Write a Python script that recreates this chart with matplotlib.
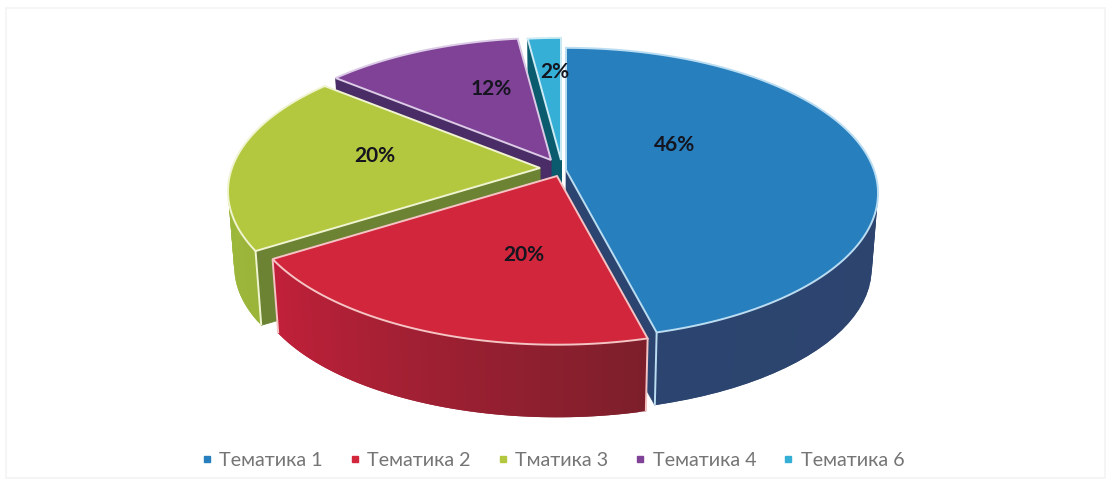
import numpy as np
import matplotlib
matplotlib.use("Agg")
import matplotlib.pyplot as plt
from matplotlib.patches import Polygon, Rectangle
from matplotlib.lines import Line2D
from matplotlib.colors import to_rgb, to_hex

# --- data ---
labels = ["Тематика 1", "Тематика 2", "Тматика 3", "Тематика 4", "Тематика 6"]
values = [46, 20, 20, 12, 2]

# --- style ---
top_colors = ["#277FBE", "#D2263C", "#B4C83F", "#7F4296", "#35AFD6"]
edge_colors = ["#BBDDF2", "#F5C4C4", "#F0F4D0", "#DCCBE6", "#CDEBF5"]
cut_colors = ["#2C4570", "#8E1F2C", "#6B8333", "#4A2C66", "#0A5B6E"]
side_start = ["#2C4570", "#C2203A", "#A0BC3C", "#4A2C66", "#0A5B6E"]
side_end = ["#2B426A", "#7D1F2B", "#9AB53A", "#4A2C66", "#0A5B6E"]
# layout: apex of every exploded slice, and label anchors, in pixels
apex = [(566, 170), (557, 176), (540, 168), (551, 160), (561, 160)]
label_pos = [(675, 145), (524, 255), (375, 156), (491, 89), (555, 72)]
RX, RY, K = 308.0, 141.7, 0.16
SHRINK, DEPTH = 0.98, 76.0
DRAW_ORDER = [4, 3, 2, 0, 1]

plt.rcParams["font.family"] = ["Lato", "DejaVu Sans"]

fig = plt.figure(figsize=(11.1, 4.8), dpi=100, facecolor="white")
ax = fig.add_axes([0, 0, 1, 1])
ax.set_xlim(0, 1110)
ax.set_ylim(480, 0)
ax.axis("off")


def project(theta, a, bottom=False):
    u, v = np.sin(theta), np.cos(theta)
    w = 1 + K * v
    s = SHRINK if bottom else 1.0
    return a[0] + s * RX * u / w, a[1] - s * RY * v / w + (DEPTH if bottom else 0.0)


fractions = np.array(values, dtype=float) / sum(values)
edges = np.concatenate([[0.0], np.cumsum(fractions)]) * 2 * np.pi


def lerp(c1, c2, t):
    a, b = np.array(to_rgb(c1)), np.array(to_rgb(c2))
    return to_hex(a + (b - a) * t)


ax.add_patch(Rectangle((6, 8), 1099, 470, facecolor="white", edgecolor="#F4F4F4", lw=1.2, zorder=0))

z = 1
for i in DRAW_ORDER:
    a = apex[i]
    t0, t1 = edges[i], edges[i + 1]
    bottom_apex = (a[0], a[1] + DEPTH)
    # cut faces
    for t in (t0, t1):
        poly = [a, project(t, a), project(t, a, True), bottom_apex]
        ax.add_patch(Polygon(poly, closed=True, facecolor=cut_colors[i], edgecolor=cut_colors[i], lw=0.5, zorder=z))
    z += 1
    # outer curved side: overlapping strips so it can carry a gradient without seams
    ts = np.linspace(t0, t1, 60)
    for j in range(len(ts) - 1):
        frac = j / (len(ts) - 2)
        c = lerp(side_end[i], side_start[i], frac)
        tn = ts[min(j + 2, len(ts) - 1)]
        p = [project(ts[j], a), project(tn, a), project(tn, a, True), project(ts[j], a, True)]
        ax.add_patch(Polygon(p, closed=True, facecolor=c, edgecolor="none", zorder=z))
    z += 1
    # top face
    ts = np.linspace(t0, t1, 160)
    pts = [a] + [project(t, a) for t in ts]
    ax.add_patch(Polygon(pts, closed=True, facecolor=top_colors[i], edgecolor=edge_colors[i], lw=1.4,
                         joinstyle="miter", zorder=z))
    # pale corner lines on the front of the slice
    for t in (t0, t1):
        if np.cos(t) < 0:
            p0, p1 = project(t, a), project(t, a, True)
            ax.plot([p0[0], p1[0]], [p0[1], p1[1]], color=edge_colors[i], lw=1.4, zorder=z,
                    solid_capstyle="butt")
    z += 1

for v, (x, y) in zip(values, label_pos):
    ax.text(x, y, f"{v}%", ha="center", va="center", fontsize=15, fontweight="bold",
            color="#15151F", zorder=z)

handles = [Line2D([], [], linestyle="none", marker="s", markersize=4.5, color=c) for c in top_colors]
ax.legend(handles, labels, loc="center", bbox_to_anchor=(553 / 1110, 1 - 460.5 / 480), ncol=5,
          frameon=False, fontsize=14.2, labelcolor="#757575", handlelength=0.55, handletextpad=0.35,
          columnspacing=1.35, borderpad=0, borderaxespad=0)

fig.savefig("out.png", dpi=100, facecolor="white")
